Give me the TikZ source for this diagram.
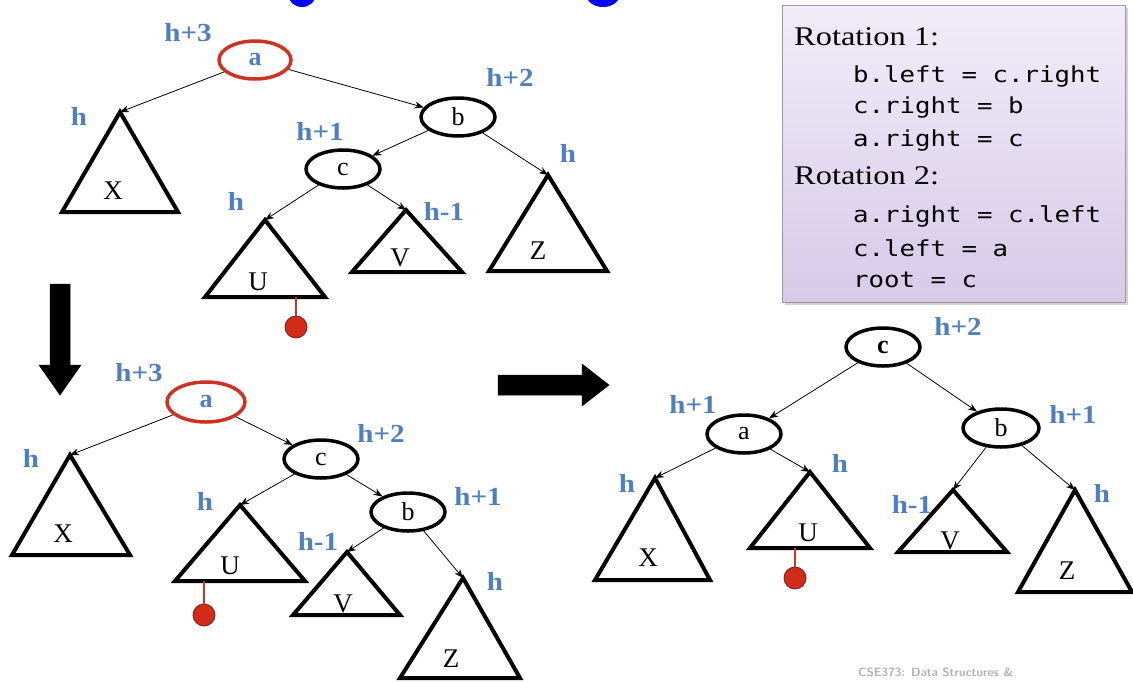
\documentclass[tikz,border=0pt]{standalone}
\usepackage{fontspec}
\setmainfont{Liberation Serif}
\newfontfamily\hfont[FakeStretch=1.12]{Liberation Serif}
\newfontfamily\rfont[FakeStretch=1.2]{Liberation Serif}
\newfontfamily\codefont[FakeStretch=1.17]{DejaVu Sans Mono}
\usetikzlibrary{shapes.geometric,arrows.meta,shadows}
\definecolor{hblue}{HTML}{4F7FBF}
\definecolor{ared}{HTML}{CC3322}
\definecolor{dotred}{HTML}{D42A1A}
\definecolor{boxtop}{HTML}{F1ECF8}
\definecolor{boxbot}{HTML}{D6CAE9}
\tikzset{
  hl/.style={font=\hfont\bfseries\fontsize{26}{26}\selectfont, text=hblue, inner sep=0},
  ell/.style={draw=black, line width=3.5pt, ellipse, minimum width=74pt, minimum height=38pt, inner sep=0, fill=white, font=\fontsize{26}{26}\selectfont},
  redell/.style={ell, draw=ared, text=hblue, font=\bfseries\fontsize{26}{26}\selectfont},
  tri/.style={draw=black, line width=4pt, fill=white, line join=miter},
  edge/.style={line width=0.8pt, -{Stealth[length=9pt,width=7pt]}},
  tlab/.style={font=\fontsize{27}{27}\selectfont, inner sep=0},
  stem/.style={draw=ared, line width=2.5pt},
  dot/.style={circle, fill=dotred, draw=ared!60!black, line width=0.8pt, minimum size=22pt, inner sep=0},
  bigarrow/.style={fill=black, draw=black, line width=0.5pt},
  codeline/.style={anchor=west, inner sep=0, font=\codefont\fontsize{22}{22}\selectfont},
  rotline/.style={anchor=west, inner sep=0, font=\rfont\fontsize{27}{27}\selectfont},
}
\begin{document}
\begin{tikzpicture}[x=1pt,y=-1pt]
\useasboundingbox (0,0) rectangle (1133,681);
\fill[white] (0,0) rectangle (1133,681);
% partial blue shapes at top edge
\fill[blue] (302,-6) ellipse (14 and 13);
\fill[blue] (603,-6) ellipse (17 and 13);

% ===== box =====
\node[draw=black!40, line width=1pt, top color=boxtop, bottom color=boxbot, drop shadow={opacity=0.35, shadow xshift=2pt, shadow yshift=-2pt},
      minimum width=343pt, minimum height=297pt, inner sep=0, anchor=north west] (box) at (782,5) {};
\node[rotline] (r1) at (794,37) {Rotation 1:};
\node[codeline] (l1) at (853,76) {b.left = c.right};
\node[codeline] (l2) at (853,108) {c.right = b};
\node[codeline] (l3) at (853,140) {a.right = c};
\node[rotline] (r2) at (794,176) {Rotation 2:};
\node[codeline] (l4) at (853,216) {a.right = c.left};
\node[codeline] (l5) at (853,248) {c.left = a};
\node[codeline] (l6) at (853,280) {root = c};

% ===== top tree =====
\node[redell, minimum width=72pt] (ta) at (255,60) {a};
\node[ell] (tb) at (458,117) {b};
\node[ell] (tc) at (343,169) {c};
\draw[tri] (120,112) coordinate (tXa) -- (178,212) -- (62,212) -- cycle;
\draw[tri] (265,220) coordinate (tUa) -- (325,297) -- (205,297) -- cycle;
\draw[tri] (406,210) coordinate (tVa) -- (462,272) -- (352,272) -- cycle;
\draw[tri] (548,175) coordinate (tZa) -- (607,271) -- (489,271) -- cycle;
\node[tlab] (tX) at (113,191) {X};
\node[tlab] (tU) at (258,282) {U};
\node[tlab] (tV) at (400,258) {V};
\node[tlab] (tZ) at (538,251) {Z};
\draw[edge] (ta) -- (tXa);
\draw[edge] (ta) -- (tb);
\draw[edge] (tb) -- (tc);
\draw[edge] (tb) -- (tZa);
\draw[edge] (tc) -- (tUa);
\draw[edge] (tc) -- (tVa);
\coordinate (tstem) at (296,297);
\node[dot] (tdot) at (296,327) {};
\draw[stem] (tstem) -- (tdot.north);
\node[hl] (th3) at (188,33) {h+3};
\node[hl] (th0) at (79,116) {h};
\node[hl] (th2) at (510,77) {h+2};
\node[hl] (th1) at (320,131) {h+1};
\node[hl] (thU) at (236,201) {h};
\node[hl] (thV) at (444,211) {h-1};
\node[hl] (thZ) at (568,153) {h};

% ===== down arrow =====
\fill[bigarrow] (50,284) -- (70,284) -- (70,365) -- (81,365) -- (60,395) -- (39,365) -- (50,365) -- cycle;
% ===== right arrow =====
\fill[bigarrow] (498,375) -- (582,375) -- (582,364) -- (609,385) -- (582,406) -- (582,395) -- (498,395) -- cycle;

% ===== bottom-left tree =====
\node[redell, minimum width=78pt, minimum height=40pt] (ba) at (206,402) {a};
\node[ell] (bc) at (321,459) {c};
\node[ell] (bb) at (408,512) {b};
\draw[tri] (70,455) coordinate (bXa) -- (130,555) -- (12,555) -- cycle;
\draw[tri] (240,505) coordinate (bUa) -- (305,581) -- (175,581) -- cycle;
\draw[tri] (347,552) coordinate (bVa) -- (400,615) -- (293,615) -- cycle;
\draw[tri] (463,578) coordinate (bZa) -- (520,678) -- (400,678) -- cycle;
\node[tlab] (bX) at (63,534) {X};
\node[tlab] (bU) at (230,566) {U};
\node[tlab] (bV) at (343,604) {V};
\node[tlab] (bZ) at (451,659) {Z};
\draw[edge] (ba) -- (bXa);
\draw[edge] (ba) -- (bc);
\draw[edge] (bc) -- (bUa);
\draw[edge] (bc) -- (bb);
\draw[edge] (bb) -- (bVa);
\draw[edge] (bb) -- (bZa);
\coordinate (bstem) at (204,581);
\node[dot] (bdot) at (204,615) {};
\draw[stem] (bstem) -- (bdot.north);
\node[hl] (bh3) at (139,373) {h+3};
\node[hl] (bh0) at (31,458) {h};
\node[hl] (bh2) at (381,433) {h+2};
\node[hl] (bhU) at (205,501) {h};
\node[hl] (bh1) at (478,496) {h+1};
\node[hl] (bhV) at (318,541) {h-1};
\node[hl] (bhZ) at (495,581) {h};

% ===== right tree =====
\node[ell, font=\bfseries\fontsize{26}{26}\selectfont] (rc) at (883,347) {c};
\node[ell] (ra) at (744,434) {a};
\node[ell, minimum width=76pt] (rb) at (1001,428) {b};
\draw[tri] (655,478) coordinate (rXa) -- (710,580) -- (595,580) -- cycle;
\draw[tri] (810,472) coordinate (rUa) -- (870,548) -- (750,548) -- cycle;
\draw[tri] (953,490) coordinate (rVa) -- (1007,552) -- (898,552) -- cycle;
\draw[tri] (1075,490) coordinate (rZa) -- (1132,592) -- (1018,592) -- cycle;
\node[tlab] (rX) at (648,558) {X};
\node[tlab] (rU) at (808,533) {U};
\node[tlab] (rV) at (950,541) {V};
\node[tlab] (rZ) at (1067,571) {Z};
\draw[edge] (rc) -- (ra);
\draw[edge] (rc) -- (rb);
\draw[edge] (ra) -- (rXa);
\draw[edge] (ra) -- (rUa);
\draw[edge] (rb) -- (rVa);
\draw[edge] (rb) -- (rZa);
\coordinate (rstem) at (795,548);
\node[dot] (rdot) at (795,578) {};
\draw[stem] (rstem) -- (rdot.north);
\node[hl] (rh2) at (958,326) {h+2};
\node[hl] (rh1a) at (693,404) {h+1};
\node[hl] (rhX) at (627,483) {h};
\node[hl] (rhU) at (840,463) {h};
\node[hl] (rh1b) at (1073,414) {h+1};
\node[hl] (rhV) at (912,504) {h-1};
\node[hl] (rhZ) at (1102,493) {h};

% footer
\node[anchor=north west, inner sep=0, text=black!30, font=\sffamily\bfseries\fontsize{12}{12}\selectfont] (foot) at (858,668) {CSE373: Data Structures \&};
\end{tikzpicture}
\end{document}
